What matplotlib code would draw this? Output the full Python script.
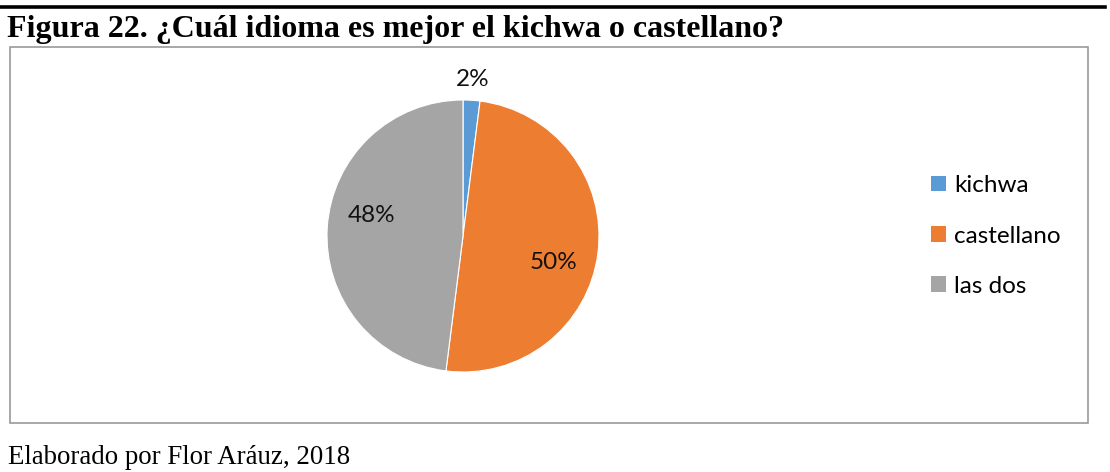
import matplotlib
matplotlib.use("Agg")
import matplotlib.pyplot as plt
from matplotlib.patches import Rectangle, Patch
from matplotlib.lines import Line2D
import numpy as np

categories = ["kichwa", "castellano", "las dos"]
values = [2, 50, 48]
pct_labels = ["2%", "50%", "48%"]
colors = ["#5B9BD5", "#ED7D31", "#A5A5A5"]
title = "Figura 22. ¿Cuál idioma es mejor el kichwa o castellano?"
footer = "Elaborado por Flor Aráuz, 2018"

W, H = 1110, 472
fig = plt.figure(figsize=(W / 100, H / 100), dpi=100)

# top rule
fig.add_artist(Line2D([0, 1105 / W], [1 - 6.5 / H, 1 - 6.5 / H], color="black", lw=2.6,
                      transform=fig.transFigure))
# chart border
fig.add_artist(Rectangle((9.5 / W, 1 - 423 / H), (1088 - 9.5) / W, (423 - 47) / H,
                         transform=fig.transFigure, fill=False, edgecolor="#9a9a9a", lw=1.2))

fig.text(7 / W, 1 - 29 / H, title, fontfamily="Liberation Serif", fontweight="bold",
         fontsize=23, va="center", ha="left")
fig.text(8 / W, 1 - 458 / H, footer, fontfamily="Liberation Serif", fontsize=19.4,
         va="center", ha="left")

cx, cy, r = 463, 236, 136
ax = fig.add_axes([(cx - r) / W, 1 - (cy + r) / H, 2 * r / W, 2 * r / H])
wedges, _ = ax.pie(values, colors=colors, startangle=90, counterclock=False,
                   radius=1, wedgeprops=dict(edgecolor="white", linewidth=0.8))
ax.set_xlim(-1, 1)
ax.set_ylim(-1, 1)
ax.axis("off")

# label placement (radial distance, angle offset in degrees)
label_dist = [1.15, 0.69, 0.69]
angle_off = [0, -9, -9]
for w, lab, d, off in zip(wedges, pct_labels, label_dist, angle_off):
    mid = np.deg2rad((w.theta1 + w.theta2) / 2 + off)
    ax.text(d * np.cos(mid), d * np.sin(mid), lab, ha="center", va="center",
            fontsize=17.5, fontfamily="Lato", color="#111111")

handles = [Patch(facecolor=c, edgecolor="none") for c in colors]
fig.legend(handles, categories, loc="center left",
           bbox_to_anchor=(931 / W, 1 - 236 / H), frameon=False,
           prop=dict(family="Lato", size=17.5), handlelength=0.6, handleheight=0.6,
           handletextpad=0.35, labelspacing=1.2, borderpad=0, borderaxespad=0)

fig.savefig("out.png", dpi=100, facecolor="white")
